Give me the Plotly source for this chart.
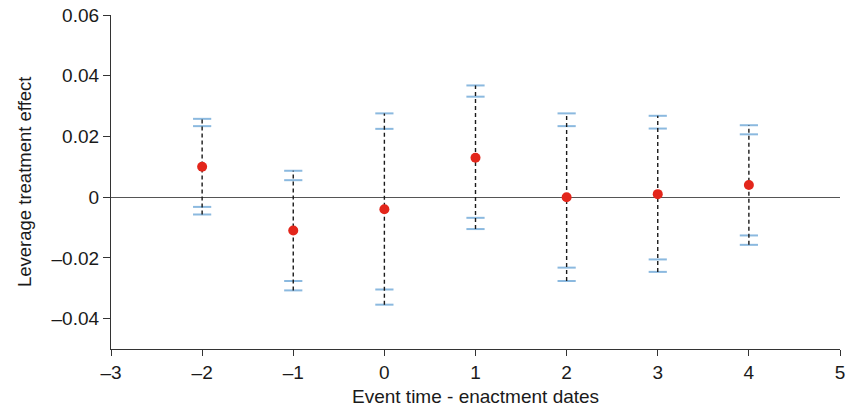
import plotly.graph_objects as go

event_time = [-2, -1, 0, 1, 2, 3, 4]
effect = [0.010, -0.011, -0.004, 0.013, 0.000, 0.001, 0.004]
ci95_low = [-0.0057, -0.0307, -0.0354, -0.0105, -0.0276, -0.0246, -0.0157]
ci95_high = [0.0258, 0.0087, 0.0276, 0.0368, 0.0276, 0.0268, 0.0237]
ci90_low = [-0.0032, -0.0276, -0.0304, -0.0068, -0.0232, -0.0205, -0.0126]
ci90_high = [0.0234, 0.0056, 0.0225, 0.0331, 0.0234, 0.0226, 0.0207]

x_ticks = [-3, -2, -1, 0, 1, 2, 3, 4, 5]
x_ticklabels = ["\u20133", "\u20132", "\u20131", "0", "1", "2", "3", "4", "5"]
y_ticks = [-0.04, -0.02, 0, 0.02, 0.04, 0.06]
y_ticklabels = ["\u20130.04", "\u20130.02", "0", "0.02", "0.04", "0.06"]

x_title = "Event time - enactment dates"
y_title = "Leverage treatment effect"

FONT = "Liberation Sans, Arial, Helvetica, sans-serif"
FS = 19

fig = go.Figure()

# caps (both interval levels)
cap_x = event_time * 4
cap_y = ci95_low + ci95_high + ci90_low + ci90_high
fig.add_trace(go.Scatter(
    x=cap_x, y=cap_y, mode="markers",
    marker=dict(symbol="line-ew", size=13,
                line=dict(color="rgba(110,168,215,0.8)", width=2)),
    hoverinfo="skip", showlegend=False, cliponaxis=False))

# dashed vertical interval lines
lx, ly = [], []
for x, lo, hi in zip(event_time, ci95_low, ci95_high):
    lx += [x, x, None]
    ly += [lo, hi, None]
fig.add_trace(go.Scatter(
    x=lx, y=ly, mode="lines",
    line=dict(color="#1a1a1a", width=1.4, dash="4px,3px"),
    hoverinfo="skip", showlegend=False))

# point estimates
fig.add_trace(go.Scatter(
    x=event_time, y=effect, mode="markers",
    marker=dict(color="#e3261b", size=10, line=dict(width=0)),
    showlegend=False))

fig.update_layout(
    width=847, height=406,
    margin=dict(l=111, r=7, t=15, b=57, autoexpand=False),
    paper_bgcolor="white", plot_bgcolor="white",
    font=dict(family=FONT, size=FS, color="#1a1a1a"),
    xaxis=dict(range=[-3, 5], tickvals=x_ticks, ticktext=x_ticklabels,
               showgrid=False, zeroline=False, showline=True,
               linecolor="#333333", linewidth=1.2, automargin=False,
               ticks="outside", ticklen=6, tickcolor="#333333",
               tickfont=dict(size=FS), ticklabeloverflow="allow"),
    yaxis=dict(range=[-0.05, 0.06], tickvals=y_ticks, ticktext=y_ticklabels,
               showgrid=False, zeroline=True, zerolinecolor="#555555", zerolinewidth=1.3,
               showline=True, linecolor="#333333", linewidth=1.2, automargin=False,
               ticks="outside", ticklen=7, tickcolor="#333333",
               tickfont=dict(size=FS), ticklabeloverflow="allow"),
    annotations=[
        dict(text=x_title, xref="paper", yref="paper", x=0.5, y=0,
             xanchor="center", yanchor="middle", yshift=-47, showarrow=False,
             font=dict(size=FS)),
        dict(text=y_title, xref="paper", yref="paper", x=0, y=0.5,
             xanchor="center", yanchor="middle", xshift=-87, showarrow=False,
             textangle=-90, font=dict(size=18.5)),
    ],
)

# remove the default 8px page margin so the figure fills the window exactly
fig.write_html("out.html",
               config={"displayModeBar": False},
               post_script="document.body.style.margin='0';document.body.style.overflow='hidden';")
